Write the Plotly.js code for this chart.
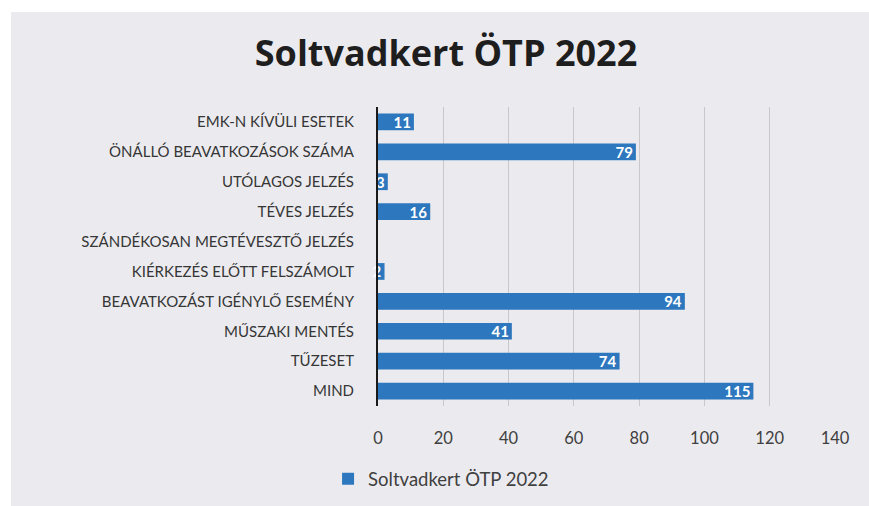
<!DOCTYPE html>
<html>
<head>
<meta charset="utf-8">
<script src="https://cdn.plot.ly/plotly-3.0.1.min.js"></script>
<style>
html,body{margin:0;padding:0;background:#ffffff;width:869px;height:506px;overflow:hidden;}
#chart{position:absolute;left:11px;top:12px;width:858px;height:494px;}
</style>
</head>
<body>
<div id="chart"></div>
<script>
// Categories listed bottom-to-top (Plotly draws first category at the bottom)
const categories = [
  "MIND",
  "TŰZESET",
  "MŰSZAKI MENTÉS",
  "BEAVATKOZÁST IGÉNYLŐ ESEMÉNY",
  "KIÉRKEZÉS ELŐTT FELSZÁMOLT",
  "SZÁNDÉKOSAN MEGTÉVESZTŐ JELZÉS",
  "TÉVES JELZÉS",
  "UTÓLAGOS JELZÉS",
  "ÖNÁLLÓ BEAVATKOZÁSOK SZÁMA",
  "EMK-N KÍVÜLI ESETEK"
];
const values = [115, 74, 41, 94, 2, 0, 16, 3, 79, 11];
const seriesName = "Soltvadkert ÖTP 2022";
const xTicks = [0, 20, 40, 60, 80, 100, 120, 140];

const trace = {
  type: "bar",
  orientation: "h",
  y: categories,
  x: values,
  name: seriesName,
  marker: {color: "#2c77bd"},
  text: values.map(String),
  textposition: "inside",
  insidetextanchor: "end",
  textangle: 0,
  constraintext: "none",
  textfont: {family: "Lato, 'DejaVu Sans', sans-serif", size: 15, color: "#ffffff", weight: "bold"},
  cliponaxis: false,
  showlegend: true
};

const layout = {
  width: 858, height: 494,
  paper_bgcolor: "#ebebef",
  plot_bgcolor: "#ebebef",
  margin: {l: 367, r: 34, t: 95, b: 100, autoexpand: false},
  bargap: 0.44,
  title: {
    text: "<b>Soltvadkert ÖTP 2022</b>",
    font: {family: "'Open Sans', 'DejaVu Sans', sans-serif", size: 36, color: "#1e1e1e"},
    x: 0.507, xanchor: "center", y: 0.917, yanchor: "middle", xref: "container", yref: "container"
  },
  xaxis: {
    range: [0, 140],
    tickvals: xTicks,
    ticktext: xTicks.map(String),
    showgrid: true, gridcolor: "#c8c8cc", gridwidth: 1,
    zeroline: false, showline: false,
    ticks: "", ticklabelstandoff: 20,
    tickfont: {family: "Lato, 'DejaVu Sans', sans-serif", size: 16.5, color: "#404040"},
    fixedrange: true
  },
  yaxis: {
    type: "category",
    categoryorder: "array", categoryarray: categories,
    showgrid: false, zeroline: false,
    showline: true, linecolor: "#1a1a1a", linewidth: 2,
    ticks: "", ticklabelstandoff: 19,
    tickfont: {family: "Lato, 'DejaVu Sans', sans-serif", size: 15, color: "#363636"},
    fixedrange: true
  },
  legend: {
    orientation: "h",
    itemwidth: 30,
    x: 0.138, xanchor: "center", y: -0.245, yanchor: "middle",
    font: {family: "Lato, 'DejaVu Sans', sans-serif", size: 18.5, color: "#404040"},
    bgcolor: "rgba(0,0,0,0)"
  }
};

Plotly.newPlot("chart", [trace], layout, {displayModeBar: false, staticPlot: true});
</script>
</body>
</html>
